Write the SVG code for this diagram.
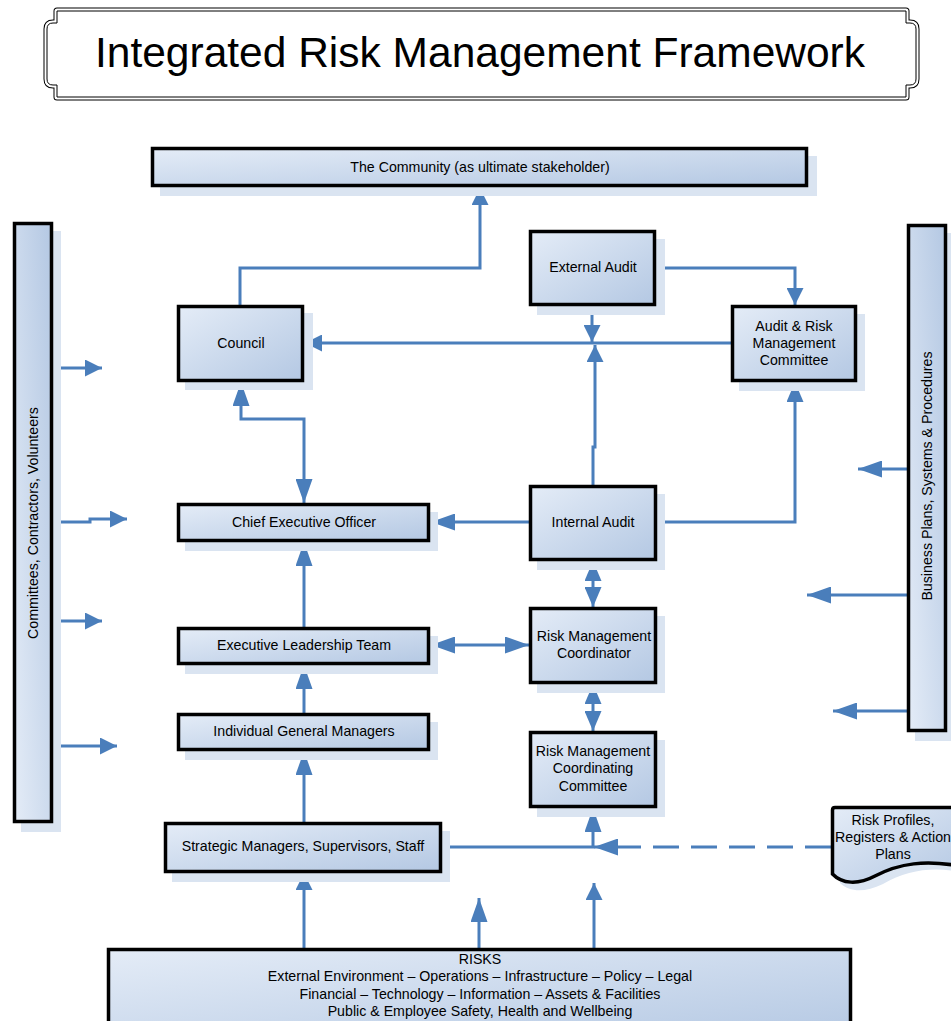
<svg xmlns="http://www.w3.org/2000/svg" width="951" height="1021" viewBox="0 0 951 1021">
<style>
.box{stroke:#000;stroke-width:3.5;fill:url(#g)}
.vbar{stroke:#000;stroke-width:3.5;fill:url(#gv)}
.sh{fill:#dae4f1}
.t{font-family:"Liberation Sans",Arial,sans-serif;font-size:14.2px;fill:#000;text-anchor:middle}
.c{fill:none;stroke:#4a7ebb;stroke-width:3}
</style>
<defs>
<linearGradient id="g" x1="0" y1="0" x2="1" y2="1"><stop offset="0" stop-color="#e4ecf7"/><stop offset="1" stop-color="#b4c8e3"/></linearGradient>
<linearGradient id="gv" x1="0" y1="1" x2="1" y2="0"><stop offset="0" stop-color="#e4ecf7"/><stop offset="1" stop-color="#b4c8e3"/></linearGradient>
<marker id="s" markerUnits="userSpaceOnUse" markerWidth="17" markerHeight="17" viewBox="0 0 17 17" refX="17" refY="8.5" orient="auto-start-reverse"><path d="M0,0 L17,8.5 L0,17 Z" fill="#4a7ebb"/></marker>
<marker id="m" markerUnits="userSpaceOnUse" markerWidth="20" markerHeight="17" viewBox="0 0 20 17" refX="20" refY="8.5" orient="auto-start-reverse"><path d="M0,0 L20,8.5 L0,17 Z" fill="#4a7ebb"/></marker>
<marker id="l" markerUnits="userSpaceOnUse" markerWidth="24" markerHeight="17" viewBox="0 0 24 17" refX="24" refY="8.5" orient="auto-start-reverse"><path d="M0,0 L24,8.5 L0,17 Z" fill="#4a7ebb"/></marker>
</defs>
<rect width="951" height="1021" fill="#fff"/>

<g id="title">
<path d="M57,11 H906 V23 H910 Q916,23 916,29 V79 Q916,85 910,85 H906 V97 H57 V85 H53 Q47,85 47,79 V29 Q47,23 53,23 H57 Z" fill="none" stroke="#000" stroke-width="7" stroke-linejoin="round"/>
<path d="M57,11 H906 V23 H910 Q916,23 916,29 V79 Q916,85 910,85 H906 V97 H57 V85 H53 Q47,85 47,79 V29 Q47,23 53,23 H57 Z" fill="#fff" stroke="#fff" stroke-width="5" stroke-linejoin="round"/>
<path d="M57,11 H906 V23 H910 Q916,23 916,29 V79 Q916,85 910,85 H906 V97 H57 V85 H53 Q47,85 47,79 V29 Q47,23 53,23 H57 Z" fill="none" stroke="#000" stroke-width="1" stroke-linejoin="round"/>
<text x="480" y="67" font-family="'Liberation Sans',Arial,sans-serif" font-size="42.5" text-anchor="middle">Integrated Risk Management Framework</text>
</g>

<g id="connectors">
<path class="c" d="M240,305 V268 H480 V188" marker-end="url(#s)"/>
<path class="c" d="M731,343 H305" marker-end="url(#s)"/>
<path class="c" d="M592,306 V342" marker-end="url(#s)"/>
<path class="c" d="M593,485 V447 H595 V345" marker-end="url(#s)"/>
<path class="c" d="M657,268 H795 V305" marker-end="url(#s)"/>
<path class="c" d="M657,522 H795 V382" marker-end="url(#m)"/>
<path class="c" d="M529,522 H431" marker-end="url(#l)"/>
<path class="c" d="M241,382 V419 H304 V503" marker-start="url(#l)" marker-end="url(#l)"/>
<path class="c" d="M304,627 V542" marker-end="url(#l)"/>
<path class="c" d="M304,713 V665" marker-end="url(#l)"/>
<path class="c" d="M304,822 V751" marker-end="url(#l)"/>
<path class="c" d="M431,645 H529" marker-start="url(#l)" marker-end="url(#l)"/>
<path class="c" d="M593,561 V607" marker-start="url(#m)" marker-end="url(#m)"/>
<path class="c" d="M593,684 V731" marker-start="url(#m)" marker-end="url(#m)"/>
<path class="c" d="M442,847 H593 V808" marker-end="url(#l)"/>
<path class="c" d="M831,847 H594" stroke-dasharray="26 12" marker-end="url(#l)"/>
<path class="c" d="M304,948 V873" marker-end="url(#s)"/>
<path class="c" d="M479,948 V898" marker-end="url(#l)"/>
<path class="c" d="M594,948 V883" marker-end="url(#s)"/>
<path class="c" d="M53,368 H102" marker-end="url(#s)"/>
<path class="c" d="M53,522 H90 V519 H127" marker-end="url(#s)"/>
<path class="c" d="M53,621 H102" marker-end="url(#s)"/>
<path class="c" d="M53,746 H117" marker-end="url(#s)"/>
<path class="c" d="M907,469 H858" marker-end="url(#l)"/>
<path class="c" d="M907,595 H807" marker-end="url(#l)"/>
<path class="c" d="M907,711 H833" marker-end="url(#l)"/>
</g>

<g id="community">
<rect class="sh" x="160" y="156" width="657" height="40"/>
<rect class="box" x="152.5" y="148.5" width="654" height="37"/>
<text class="t" x="480" y="172">The Community (as ultimate stakeholder)</text>
</g>

<g id="committees">
<rect class="sh" x="21" y="231" width="40" height="601"/>
<rect class="vbar" x="14.5" y="223.5" width="37" height="598"/>
<text class="t" transform="translate(38,523) rotate(-90)">Committees, Contractors, Volunteers</text>
</g>

<g id="business-plans">
<rect class="sh" x="915" y="233" width="40" height="508"/>
<rect class="vbar" x="908.5" y="225.5" width="37" height="505"/>
<text class="t" transform="translate(932,476) rotate(-90)">Business Plans, Systems &amp; Procedures</text>
</g>

<g id="council">
<rect class="sh" x="185" y="313" width="128" height="77"/>
<rect class="box" x="178.5" y="306.5" width="124" height="74"/>
<text class="t" x="241" y="348">Council</text>
</g>

<g id="external-audit">
<rect class="sh" x="537" y="239" width="128" height="76"/>
<rect class="box" x="530.5" y="231.5" width="124" height="73"/>
<text class="t" x="593" y="272">External Audit</text>
</g>

<g id="audit-risk-committee">
<rect class="sh" x="739" y="314" width="126" height="77"/>
<rect class="box" x="732.5" y="306.5" width="123" height="74"/>
<text class="t" x="794" y="331">Audit &amp; Risk</text>
<text class="t" x="794" y="348">Management</text>
<text class="t" x="794" y="365">Committee</text>
</g>

<g id="ceo">
<rect class="sh" x="185" y="512" width="253" height="39"/>
<rect class="box" x="178.5" y="504.5" width="250" height="36"/>
<text class="t" x="304" y="527">Chief Executive Officer</text>
</g>

<g id="internal-audit">
<rect class="sh" x="537" y="494" width="128" height="76"/>
<rect class="box" x="530.5" y="486.5" width="125" height="73"/>
<text class="t" x="593" y="527">Internal Audit</text>
</g>

<g id="elt">
<rect class="sh" x="185" y="636" width="253" height="38"/>
<rect class="box" x="178.5" y="628.5" width="250" height="35"/>
<text class="t" x="304" y="650">Executive Leadership Team</text>
</g>

<g id="rm-coordinator">
<rect class="sh" x="537" y="616" width="128" height="77"/>
<rect class="box" x="530.5" y="608.5" width="125" height="74"/>
<text class="t" x="594" y="641">Risk Management</text>
<text class="t" x="594" y="658">Coordinator</text>
</g>

<g id="igm">
<rect class="sh" x="185" y="722" width="253" height="38"/>
<rect class="box" x="178.5" y="714.5" width="250" height="35"/>
<text class="t" x="304" y="736">Individual General Managers</text>
</g>

<g id="rm-committee">
<rect class="sh" x="537" y="740" width="128" height="77"/>
<rect class="box" x="530.5" y="732.5" width="125" height="74"/>
<text class="t" x="593" y="756">Risk Management</text>
<text class="t" x="593" y="773">Coordinating</text>
<text class="t" x="593" y="791">Committee</text>
</g>

<g id="staff">
<rect class="sh" x="172" y="831" width="278" height="51"/>
<rect class="box" x="165.5" y="823.5" width="275" height="48"/>
<text class="t" x="303" y="851">Strategic Managers, Supervisors, Staff</text>
</g>

<g id="risk-profiles">
<path class="sh" d="M840,814 H968 V874 C940,866 910,868 883,884 C864,893 850,892 840,883 Z"/>
<path d="M835,807.5 Q832.5,807.5 832.5,810 V874 C842,884 858,885 875,876 C900,863 925,860 960,866 V807.5 Z" fill="url(#g)" stroke="#000" stroke-width="3.5"/>
<text class="t" x="893" y="825">Risk Profiles,</text>
<text class="t" x="893" y="842">Registers &amp; Action</text>
<text class="t" x="893" y="859">Plans</text>
</g>

<g id="risks">
<rect class="box" x="108.5" y="949.5" width="742" height="90"/>
<text class="t" x="480" y="964">RISKS</text>
<text class="t" x="480" y="981">External Environment – Operations – Infrastructure – Policy – Legal</text>
<text class="t" x="480" y="999">Financial – Technology – Information – Assets &amp; Facilities</text>
<text class="t" x="480" y="1016">Public &amp; Employee Safety, Health and Wellbeing</text>
</g>
</svg>
